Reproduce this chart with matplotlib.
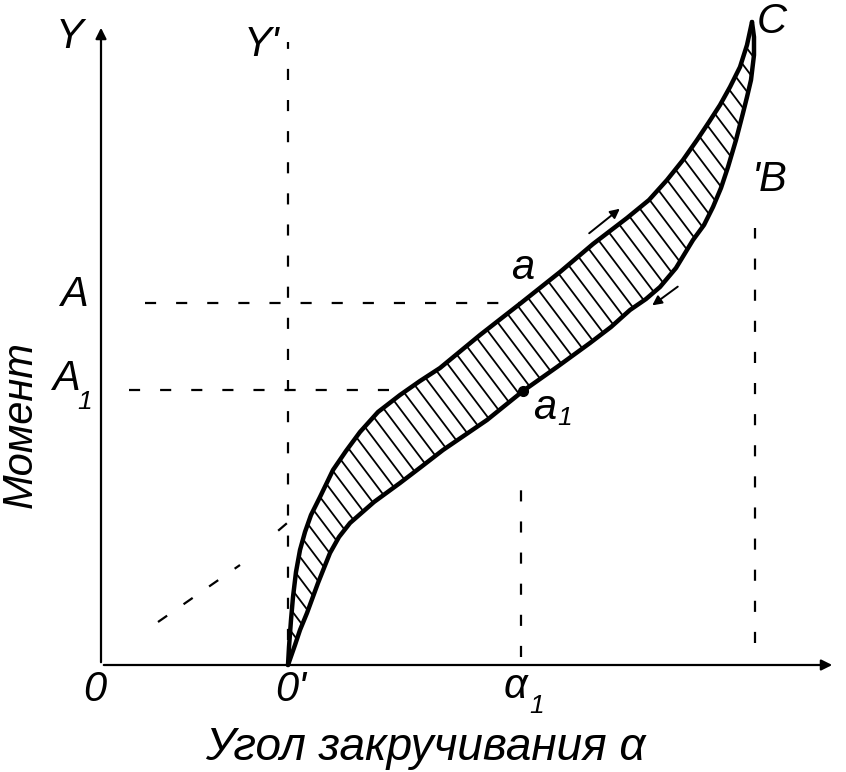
import matplotlib.pyplot as plt
import numpy as np
from matplotlib.patches import Polygon

# Origin O = (0, 0); units are the picture's own scale
x_axis_end = 734
y_axis_end = 640

o_prime_x = 187
alpha1_x  = 420
b_line_x  = 654
moment_A  = 362
moment_A1 = 275

# Loading branch O' -> a -> C (upper edge of the loop)
load_angle  = [187, 188, 190, 192, 195, 199, 204, 210, 219, 232, 245, 259,
               277, 299, 319, 339, 379, 420, 459, 492, 526, 548, 566, 582,
               596, 608, 619, 629, 639, 646, 651]
load_moment = [0, 18, 45, 68, 93, 115, 133, 150, 168, 195, 214, 233,
               253, 270, 284, 297, 330, 362, 393, 421, 447, 465, 485, 505,
               525, 543, 560, 578, 598, 620, 643]

# Unloading branch C -> a1 -> O' (lower edge of the loop)
unload_angle  = [651, 653, 653, 650, 646, 642, 635, 627, 620, 612, 603, 592,
                 575, 559, 545, 529, 510, 489, 456, 422, 386, 364, 342, 320,
                 299, 273, 249, 238, 229, 217, 206, 199, 194, 187]
unload_moment = [643, 628, 610, 585, 568, 552, 525, 498, 477, 458, 440, 425,
                 397, 378, 366, 355, 338, 322, 298, 274, 245, 230, 215, 198,
                 182, 163, 142, 128, 112, 82, 52, 35, 20, 0]

# Diagonal dashed guide near the origin
guide_angle  = [57, 139]
guide_moment = [43, 100]

font = ['Liberation Sans Narrow', 'Liberation Sans', 'DejaVu Sans']
plt.rcParams['font.family'] = font

fig = plt.figure(figsize=(8.46, 7.72), dpi=100)
ax = fig.add_axes([0, 0, 1, 1])
ax.set_xlim(-101, 745)
ax.set_ylim(-107, 665)
ax.axis('off')

# Axes with arrows
arrow = dict(arrowstyle='-|>', lw=1.6, color='black', mutation_scale=16)
ax.annotate('', xy=(x_axis_end, 0), xytext=(0, 0), arrowprops=arrow)
ax.annotate('', xy=(0, y_axis_end), xytext=(0, 0), arrowprops=arrow)

dash = dict(color='black', lw=1.6, linestyle=(0, (5, 9)))
ax.plot([o_prime_x, o_prime_x], [25, 623], **dash)
ax.plot([alpha1_x, alpha1_x], [8, 192], **dash)
ax.plot([b_line_x, b_line_x], [22, 437], **dash)
ax.plot([44, 418], [moment_A, moment_A], **dash)
ax.plot([28, 302], [moment_A1, moment_A1], **dash)
ax.plot(guide_angle, guide_moment, **dash)
ax.plot([178, 185], [135, 141], color='black', lw=1.6)

# Loop area with hatching
loop_x = load_angle + unload_angle[1:-1]
loop_y = load_moment + unload_moment[1:-1]
loop = Polygon(np.column_stack([loop_x, loop_y]), closed=True,
               facecolor='none', edgecolor='none')
ax.add_patch(loop)
theta = np.deg2rad(53)
d = np.array([np.cos(theta), -np.sin(theta)])
n = np.array([np.sin(theta), np.cos(theta)])
for c in np.arange(-400, 900, 13):
    p0 = c * n - 900 * d
    p1 = c * n + 900 * d
    ln, = ax.plot([p0[0], p1[0]], [p0[1], p1[1]], color='black', lw=1.3)
    ln.set_clip_path(loop)

ax.plot(load_angle, load_moment, color='black', lw=3.2,
        solid_joinstyle='round', solid_capstyle='round')
ax.plot(unload_angle, unload_moment, color='black', lw=3.2,
        solid_joinstyle='round', solid_capstyle='round')
ax.plot([alpha1_x + 2], [moment_A1 - 1], 'o', color='black', ms=7)

# Direction arrows along the branches
small = dict(arrowstyle='-|>', lw=1.4, color='black', mutation_scale=14)
ax.annotate('', xy=(521, 458), xytext=(486, 430), arrowprops=small)
ax.annotate('', xy=(549, 358), xytext=(579, 380), arrowprops=small)

txt = dict(fontsize=30, style='italic', color='black', ha='center', va='center')
sub = dict(fontsize=19, style='italic', color='black', ha='center', va='center')
ax.text(-31, 628, 'Y', **txt)
ax.text(161, 620, "Y'", **txt)
ax.text(671, 643, 'C', **txt)
ax.text(669, 485, "'B", **txt)
ax.text(422, 397, 'a', **txt)
ax.text(444, 257, 'a', **txt)
ax.text(464, 247, '1', **sub)
ax.text(-27, 370, 'A', **txt)
ax.text(-35, 286, 'A', **txt)
ax.text(-16, 263, '1', **sub)
ax.text(-6, -25, '0', **txt)
ax.text(o_prime_x + 3, -25, "0'", **txt)
ax.text(alpha1_x - 6, -22, 'α', **txt)
ax.text(alpha1_x + 16, -41, '1', **sub)
ax.text(324, -83, 'Угол закручивания α', fontsize=33, style='italic',
        color='black', ha='center', va='center')
ax.text(-80, 240, 'Момент', rotation=90, **txt)

fig.savefig('out.png', dpi=100, facecolor='white')
